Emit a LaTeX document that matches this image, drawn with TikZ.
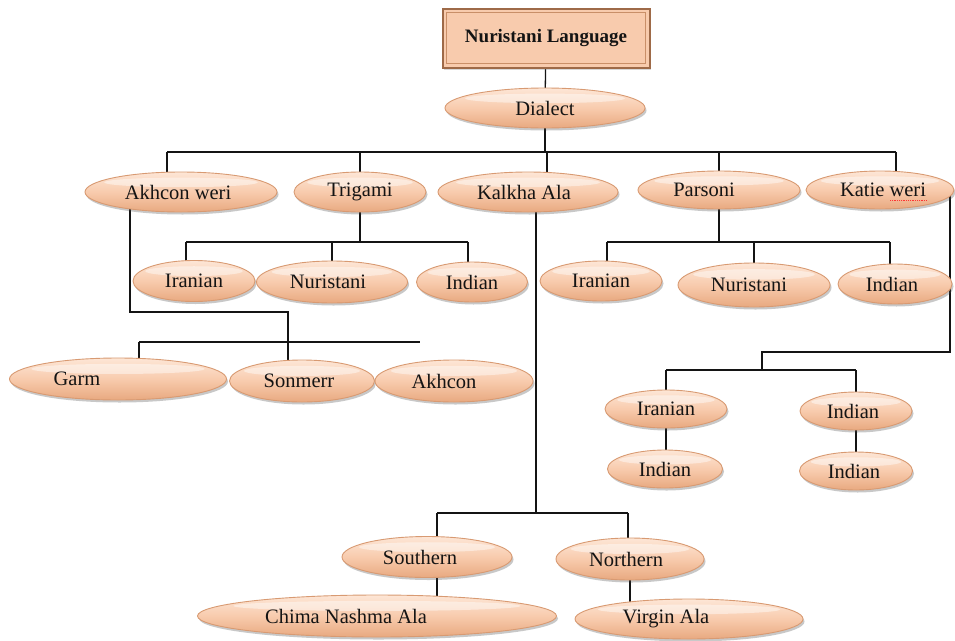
\documentclass[tikz,border=0pt]{standalone}
\usepackage{fontspec}
\setmainfont{Liberation Serif}
\usetikzlibrary{shapes.geometric,shadows,calc}
\pgfdeclarelayer{bg}
\pgfdeclarelayer{background}
\pgfsetlayers{bg,background,main}
\definecolor{peach}{HTML}{F8CBAD}
\definecolor{peachtop}{HTML}{FDE6D6}
\definecolor{peachbot}{HTML}{E8A980}
\definecolor{peachedge}{HTML}{D89A72}
\definecolor{framebrown}{HTML}{9E6A48}
\definecolor{frameinner}{HTML}{C98F68}
\definecolor{inkline}{HTML}{141414}
\definecolor{inktext}{HTML}{141414}
\begin{document}
\begin{tikzpicture}[x=1pt,y=-1pt,
  oval/.style={ellipse, inner sep=0pt, draw=peachedge, line width=0.9pt,
    top color=peachtop, bottom color=peachbot, middle color=peach,
    drop shadow={shadow xshift=1.5pt, shadow yshift=-2.5pt, opacity=0.3, fill=black!70},
    font=\fontsize{20.5}{24}\selectfont, text=inktext,
    path picture={\path let \p1=(path picture bounding box.north east),
        \p2=(path picture bounding box.south west),
        \p3=($(\p1)!0.5!(\p2)$) in
        [fill=white, fill opacity=0.45]
        (\x3,{\y3+0.24*(\y1-\y2)}) ellipse ({0.40*(\x1-\x2)} and {0.12*(\y1-\y2)});}},
  sz/.style 2 args={minimum width=#1pt, minimum height=#2pt},
  titlebox/.style={rectangle, fill=peach, draw=framebrown, line width=2pt,
    drop shadow={shadow xshift=1.5pt, shadow yshift=-2pt, opacity=0.3},
    font=\bfseries\fontsize{19}{22}\selectfont, text=inktext},
  conn/.style={draw=inkline, line width=1.3pt}
]
\begin{pgfonlayer}{bg}
\fill[white] (0,0) rectangle (955,640);
\end{pgfonlayer}
\useasboundingbox (0,0) rectangle (955,640);

% nodes
\node[titlebox, sz={207}{59}] (title) at (546,38) {Nuristani Language};
\draw[frameinner, line width=1pt] ([shift={(5pt,5pt)}]title.south west) rectangle ([shift={(-5pt,-5pt)}]title.north east);
\node[oval, sz={200}{40}] (dia) at (545,108) {Dialect};

\node[oval, sz={192}{40}] (akw) at (181,192) {Akhcon weri\kern6pt};
\node[oval, sz={132}{40}] (tri) at (360,192) {Trigami};
\node[oval, sz={180}{40}] (kal) at (528,192) {Kalkha Ala\kern8pt};
\node[oval, sz={162}{38}] (par) at (719,190) {Parsoni\kern30pt};
\node[oval, sz={148}{38}] (kat) at (880,190) {\kern6pt Katie weri};
\draw[red!80, densely dotted, line width=0.8pt] ([xshift=10pt,yshift=-10pt]kat.center) -- ([xshift=47pt,yshift=-10pt]kat.center);

\node[oval, sz={122}{41}] (iranT) at (194,281) {Iranian};
\node[oval, sz={151}{42}] (nurT) at (332,282) {Nuristani\kern8pt};
\node[oval, sz={111}{40}] (indT) at (472,282) {Indian};
\node[oval, sz={122}{40}] (iranP) at (601,281) {Iranian};
\node[oval, sz={152}{44}] (nurP) at (754,285) {Nuristani\kern10pt};
\node[oval, sz={114}{40}] (indP) at (895,284) {Indian\kern6pt};

\node[oval, sz={217}{42}] (garm) at (118,379) {Garm\kern82pt};
\node[oval, sz={145}{42}] (son) at (302,381) {Sonmerr\kern6pt};
\node[oval, sz={158}{42}] (akh) at (454,381) {Akhcon\kern20pt};

\node[oval, sz={122}{38}] (iranK) at (666,409) {Iranian};
\node[oval, sz={112}{38}] (indK) at (856,411) {Indian\kern6pt};
\node[oval, sz={115}{38}] (indKL) at (665,469) {Indian};
\node[oval, sz={113}{38}] (indKR) at (856,471) {Indian\kern4pt};

\node[oval, sz={170}{41}] (sou) at (427,557) {Southern\kern14pt};
\node[oval, sz={148}{42}] (nor) at (630,559) {Northern\kern8pt};
\node[oval, sz={359}{42}] (chi) at (377,616) {Chima Nashma Ala\kern62pt};
\node[oval, sz={228}{40}] (vir) at (689,619) {Virgin Ala\kern46pt};

% connectors
\begin{pgfonlayer}{background}
\draw[conn] (title.center) -- (dia.center);
\coordinate (busL) at (167,152);
\coordinate (busR) at (896,152);
\coordinate (kdrop) at (547,152);
\draw[conn] (dia.center) -- (dia.center |- busL);
\draw[conn] (busL) -- (busR);
\draw[conn] (busL) -- (busL |- akw.center);
\draw[conn] (tri.center |- busL) -- (tri.center);
\draw[conn] (kdrop) -- (kdrop |- kal.center);
\draw[conn] (par.center |- busL) -- (par.center);
\draw[conn] (busR) -- (busR |- kat.center);

\coordinate (tL) at (186,242);
\coordinate (tR) at (468,242);
\draw[conn] (tri.center) -- (tri.center |- tL);
\draw[conn] (tL) -- (tR);
\draw[conn] (tL) -- (tL |- iranT.center);
\draw[conn] (nurT.center |- tL) -- (nurT.center);
\draw[conn] (tR) -- (tR |- indT.center);

\coordinate (pL) at (607,242);
\coordinate (pR) at (890,242);
\draw[conn] (par.center) -- (par.center |- pL);
\draw[conn] (pL) -- (pR);
\draw[conn] (pL) -- (pL |- iranP.center);
\draw[conn] (nurP.center |- pL) -- (nurP.center);
\draw[conn] (pR) -- (pR |- indP.center);

\coordinate (a1) at (130,312);
\coordinate (a2) at (288,312);
\draw[conn] (akw.center -| a1) -- (a1) -- (a2) -- (a2 |- son.center);
\coordinate (g1) at (139,342);
\coordinate (g2) at (420,342);
\draw[conn] (g1) -- (g2);
\draw[conn] (g1) -- (g1 |- garm.center);

\coordinate (k1) at (536,513);
\coordinate (s1) at (437,513);
\coordinate (n1) at (628,513);
\draw[conn] (kal.center -| k1) -- (k1);
\draw[conn] (s1) -- (n1);
\draw[conn] (s1) -- (s1 |- sou.center);
\draw[conn] (n1) -- (n1 |- nor.center);
\draw[conn] (sou.center -| s1) -- (chi.center -| s1);
\draw[conn] (nor.center) -- (nor.center |- vir.center);

\coordinate (c1) at (950,352);
\coordinate (c2) at (762,352);
\coordinate (c3) at (762,370);
\draw[conn] (kat.center -| c1) -- (c1) -- (c2) -- (c3);
\draw[conn] (iranK.center |- c3) -- (indK.center |- c3);
\draw[conn] (iranK.center |- c3) -- (iranK.center);
\draw[conn] (indK.center |- c3) -- (indK.center);
\draw[conn] (iranK.center) -- (iranK.center |- indKL.center);
\draw[conn] (indK.center) -- (indK.center |- indKR.center);
\end{pgfonlayer}
\end{tikzpicture}
\end{document}
